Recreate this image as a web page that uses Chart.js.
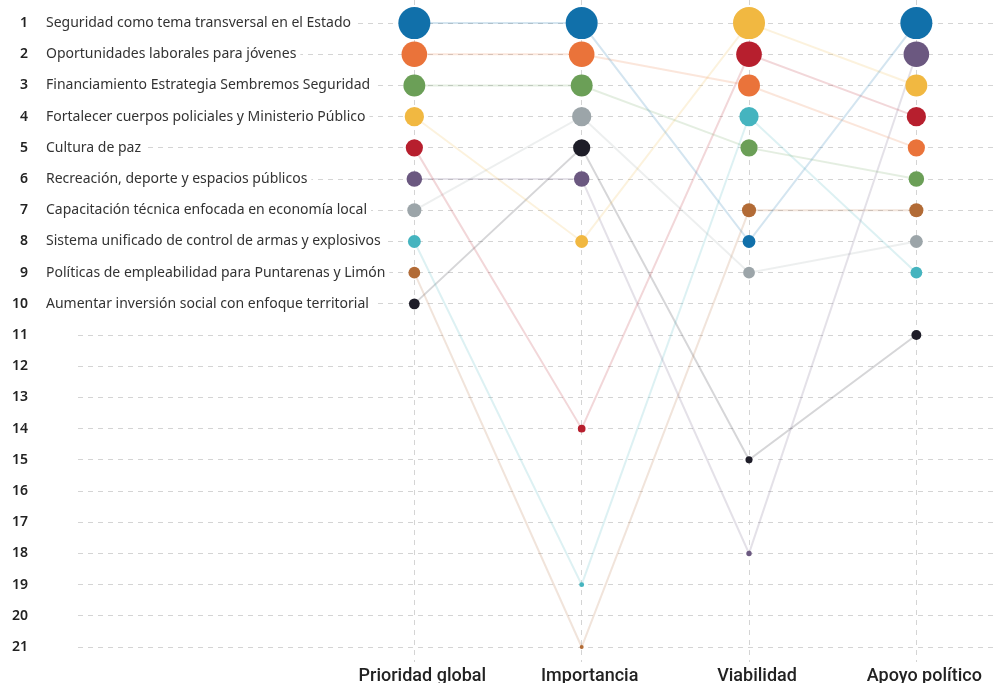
<!DOCTYPE html>
<html>
<head>
<meta charset="utf-8">
<script src="https://cdn.jsdelivr.net/npm/chart.js@4"></script>
<style>
  body { margin: 0; background: #fff; }
  #wrap { width: 995px; height: 683px; position: relative; }
</style>
</head>
<body>
<div id="wrap"><canvas id="chart"></canvas></div>
<script>
const criterios = ['Prioridad global', 'Importancia', 'Viabilidad', 'Apoyo político'];
const medidas = [
  'Seguridad como tema transversal en el Estado',
  'Oportunidades laborales para jóvenes',
  'Financiamiento Estrategia Sembremos Seguridad',
  'Fortalecer cuerpos policiales y Ministerio Público',
  'Cultura de paz',
  'Recreación, deporte y espacios públicos',
  'Capacitación técnica enfocada en economía local',
  'Sistema unificado de control de armas y explosivos',
  'Políticas de empleabilidad para Puntarenas y Limón',
  'Aumentar inversión social con enfoque territorial'
];
const rankGlobal = [1, 2, 3, 4, 5, 6, 7, 8, 9, 10];
const rankImportancia = [1, 2, 3, 8, 14, 6, 4, 19, 21, 5];
const rankViabilidad = [8, 3, 5, 1, 2, 18, 9, 4, 7, 15];
const rankApoyo = [1, 5, 6, 3, 4, 2, 8, 9, 7, 11];
const rangos = [1, 2, 3, 4, 5, 6, 7, 8, 9, 10, 11, 12, 13, 14, 15, 16, 17, 18, 19, 20, 21];

const colores = ['#1170aa', '#ea733a', '#6b9f57', '#f1b841', '#b71f2e',
                 '#6b5880', '#9ca5a9', '#45b4bf', '#b26b36', '#1e1d28'];

const ranks = [rankGlobal, rankImportancia, rankViabilidad, rankApoyo];

function alpha(hex, a) {
  const n = parseInt(hex.slice(1), 16);
  return `rgba(${(n >> 16) & 255}, ${(n >> 8) & 255}, ${n & 255}, ${a})`;
}

// bigger dot for better rank
const radio = rank => Math.max(1, 16 - 4.6 * Math.log(rank));

const datasets = medidas.map((m, i) => ({
  label: m,
  data: criterios.map((c, j) => ({ x: j, y: ranks[j][i] })),
  borderColor: alpha(colores[i], 0.18),
  borderWidth: 2,
  pointBackgroundColor: colores[i],
  pointBorderWidth: 0,
  pointRadius: ctx => radio(ctx.raw.y),
  pointHoverRadius: ctx => radio(ctx.raw.y),
  tension: 0
}));

// names of the measures, left of the first column, over the grid
const etiquetas = {
  id: 'etiquetas',
  beforeDatasetsDraw(chart) {
    const { ctx, scales: { y } } = chart;
    ctx.save();
    ctx.font = '14px "Noto Sans"';
    ctx.textBaseline = 'middle';
    medidas.forEach((m, i) => {
      const py = y.getPixelForValue(rankGlobal[i]);
      const w = ctx.measureText(m).width;
      ctx.fillStyle = '#fff';
      ctx.fillRect(42, py - 9, w + 8, 18);
      ctx.fillStyle = '#333';
      ctx.fillText(m, 46, py);
    });
    ctx.restore();
  }
};

new Chart(document.getElementById('chart'), {
  type: 'line',
  data: { datasets },
  options: {
    responsive: true,
    maintainAspectRatio: false,
    animation: false,
    layout: { padding: 0, autoPadding: false },
    plugins: { legend: { display: false }, tooltip: { enabled: false } },
    scales: {
      x: {
        type: 'linear',
        min: -2.01,
        max: 3.47,
        afterBuildTicks: s => { s.ticks = criterios.map((c, j) => ({ value: j })); },
        afterFit: s => { s.height = 21; s.paddingLeft = 0; s.paddingRight = 0; },
        grid: { color: '#d4d4d4', drawTicks: false },
        border: { display: false, dash: [5, 5] },
        ticks: {
          callback: v => criterios[v],
          font: { family: 'Roboto', size: 18, weight: 500 },
          color: '#222',
          padding: 4,
          labelOffset: 8,
          maxRotation: 0,
          autoSkip: false
        }
      },
      y: {
        type: 'linear',
        reverse: true,
        min: 0.26,
        max: 21.48,
        afterBuildTicks: s => { s.ticks = rangos.map(r => ({ value: r })); },
        afterFit: s => { s.width = 78; s.paddingTop = 0; s.paddingBottom = 0; },
        grid: { color: '#d4d4d4', drawTicks: false },
        border: { display: false, dash: [5, 5] },
        ticks: {
          callback: v => String(v),
          font: { family: 'Noto Sans', size: 14, weight: 600 },
          color: '#222',
          padding: 50
        }
      }
    }
  },
  plugins: [etiquetas]
});
</script>
</body>
</html>
